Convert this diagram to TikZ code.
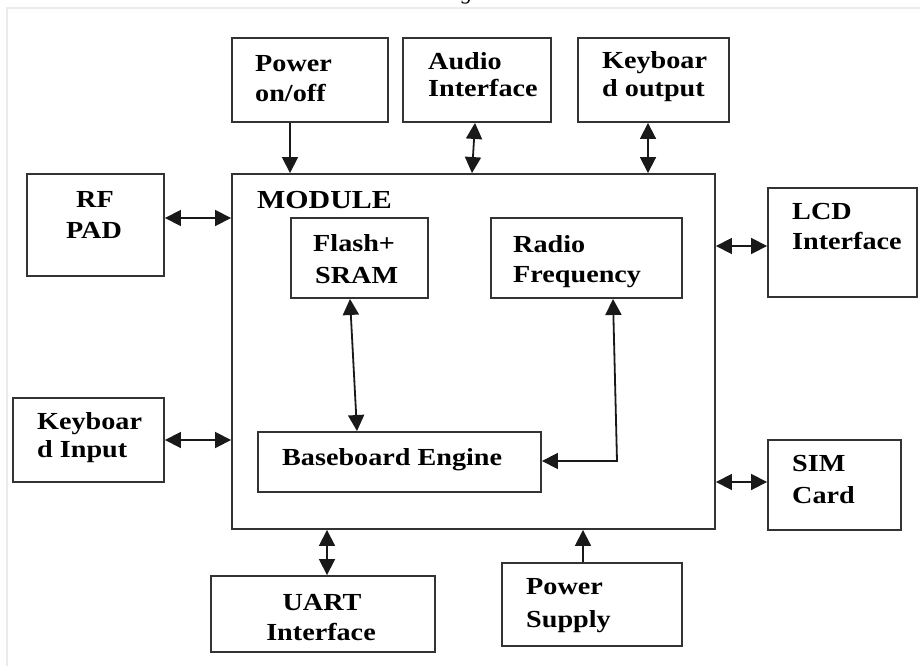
\documentclass[tikz,border=0pt]{standalone}
\usepackage{fontspec}
\setmainfont{Liberation Serif}
\newfontfamily\bxf[FakeStretch=1.15,BoldFont={Liberation Serif Bold}]{Liberation Serif}
\usetikzlibrary{arrows.meta,fit}
\tikzset{
  blk/.style={draw=black!80, line width=1.9pt, inner sep=0pt, fill=none},
  lbl/.style={anchor=base west, inner sep=0pt, font=\bxf\bfseries\fontsize{24.5}{28}\selectfont, text=black},
  lblc/.style={lbl, anchor=base},
  sarr/.style={-{Triangle[length=16pt,width=16pt]}, line width=1.8pt, black!90},
  darr/.style={{Triangle[length=16pt,width=16pt]}-{Triangle[length=16pt,width=16pt]}, line width=1.8pt, black!90},
  frame/.style={draw=gray!16, line width=2pt}
}
\begin{document}
\begin{tikzpicture}[x=1pt,y=-1pt]
\useasboundingbox (0,0) rectangle (920,666);
\fill[white] (0,0) rectangle (920,666);
\begin{scope}
  \clip (0,0) rectangle (920,666);
  \node[anchor=base, inner sep=0pt, font=\itshape\fontsize{22}{26}\selectfont] (capg) at (467,0) {g};
\end{scope}
\draw[frame] (7,666) -- (7,8) -- (920,8);

% boxes
\node[blk, fit={(232,38) (388,122)}] (pwr) {};
\node[blk, fit={(403,38) (551,122)}] (aud) {};
\node[blk, fit={(578,38) (729,122)}] (kout) {};
\node[blk, fit={(232,174) (715,529)}] (mod) {};
\node[blk, fit={(27,174) (164,276)}] (rf) {};
\node[blk, fit={(291,218) (428,298)}] (flash) {};
\node[blk, fit={(491,218) (682,298)}] (radio) {};
\node[blk, fit={(768,188) (917,297)}] (lcd) {};
\node[blk, fit={(13,398) (164,482)}] (kin) {};
\node[blk, fit={(258,432) (541,492)}] (bbe) {};
\node[blk, fit={(768,440) (901,530)}] (sim) {};
\node[blk, fit={(211,576) (435,652)}] (uart) {};
\node[blk, fit={(502,563) (682,646)}] (psup) {};

% labels
\node[lbl] (t1) at (255,72) {Power};
\node[lbl] (t2) at (255,102) {on/off};
\node[lbl] (t3) at (428,70) {Audio};
\node[lbl] (t4) at (428,97) {Interface};
\node[lbl] (t5) at (602,69) {Keyboar};
\node[lbl] (t6) at (602,97) {d output};
\node[lbl, font=\bxf\bfseries\fontsize{26}{30}\selectfont] (t7) at (257,208) {MODULE};
\node[lblc] (t8) at (95,207) {RF};
\node[lblc] (t9) at (94,238) {PAD};
\node[lbl] (t10) at (313,251) {Flash+};
\node[lbl] (t11) at (315,283) {SRAM};
\node[lbl] (t12) at (513,252) {Radio};
\node[lbl] (t13) at (513,282) {Frequency};
\node[lbl] (t14) at (792,219) {LCD};
\node[lbl] (t15) at (792,249) {Interface};
\node[lbl] (t16) at (37,429) {Keyboar};
\node[lbl] (t17) at (37,457) {d Input};
\node[lbl] (t18) at (282,465) {Baseboard Engine};
\node[lbl] (t19) at (792,471) {SIM};
\node[lbl] (t20) at (792,503) {Card};
\node[lblc] (t21) at (322,610) {UART};
\node[lblc] (t22) at (321,640) {Interface};
\node[lbl] (t23) at (526,594) {Power};
\node[lbl] (t24) at (526,627) {Supply};

% connectors
\draw[sarr] (290,0 |- pwr.south) -- (290,0 |- mod.north);
\draw[darr] (475,0 |- aud.south) -- (472,0 |- mod.north);
\draw[darr] (648,0 |- kout.south) -- (648,0 |- mod.north);
\draw[darr] (rf.east |- 0,218) -- (mod.west |- 0,218);
\draw[darr] (kin.east |- 0,440) -- (mod.west |- 0,440);
\draw[darr] (mod.east |- 0,246) -- (lcd.west |- 0,246);
\draw[darr] (mod.east |- 0,482) -- (sim.west |- 0,482);
\draw[darr] (327,0 |- mod.south) -- (327,0 |- uart.north);
\draw[sarr] (583,0 |- psup.north) -- (583,0 |- mod.south);
\draw[darr] (350,0 |- flash.south) -- (357,0 |- bbe.north);
\draw[darr] (613,0 |- radio.south) -- (617,461) -- (bbe.east |- 0,461);
\end{tikzpicture}
\end{document}
